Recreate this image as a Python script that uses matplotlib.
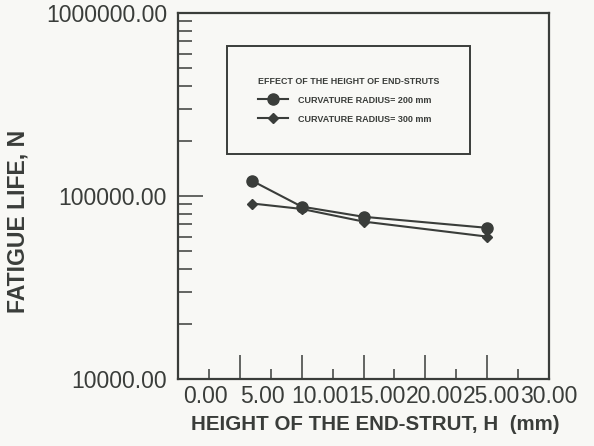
import matplotlib
matplotlib.use("Agg")
import matplotlib.pyplot as plt
import matplotlib.transforms as mtransforms
from matplotlib.ticker import FixedLocator, NullFormatter, LogLocator

# fatigue life vs end-strut height, for two curvature radii
heights = [6.0, 10.0, 15.0, 25.0]
life_r200 = [121000, 87500, 77000, 67000]
life_r300 = [91000, 85000, 72500, 60000]

x_ticks = [0, 5, 10, 15, 20, 25, 30]
x_tick_labels = ["0.00", "5.00", "10.00", "15.00", "20.00", "25.00", "30.00"]
y_ticks = [1e4, 1e5, 1e6]
y_tick_labels = ["10000.00", "100000.00", "1000000.00"]

INK = "#3a3d3a"
PAPER = "#f8f8f5"

plt.rcParams["font.family"] = ["Liberation Sans", "DejaVu Sans"]

fig = plt.figure(figsize=(5.94, 4.46), dpi=100, facecolor=PAPER)
ax = fig.add_axes([0.2997, 0.1502, 0.6246, 0.8206], facecolor=PAPER)

ax.plot(heights, life_r200, color=INK, lw=1.5, marker="o", ms=8,
        mfc=INK, mec=INK, label="CURVATURE RADIUS= 200 mm")
ax.plot(heights, life_r300, color=INK, lw=1.5, marker="D", ms=5.5,
        mfc=INK, mec=INK, label="CURVATURE RADIUS= 300 mm")

ax.set_yscale("log")
ax.set_xlim(0, 30)
ax.set_ylim(1e4, 1e6)

for sp in ax.spines.values():
    sp.set_color(INK)
    sp.set_linewidth(1.6)

# x axis: inward ticks, labels nudged to the right
ax.xaxis.set_major_locator(FixedLocator(x_ticks))
ax.xaxis.set_minor_locator(FixedLocator([2.5 + 5 * i for i in range(6)]))
ax.set_xticklabels(x_tick_labels)
ax.tick_params(axis="x", which="major", direction="in", length=17, width=1.1,
               color=INK, labelsize=16.5, labelcolor=INK, pad=4, top=False)
ax.tick_params(axis="x", which="minor", direction="in", length=7.5, width=1.1,
               color=INK, top=False)
n = len(x_tick_labels)
for i, lab in enumerate(ax.get_xticklabels()):
    shift = 27 * (1 - i / (n - 1)) * 0.72
    lab.set_transform(lab.get_transform() +
                      mtransforms.ScaledTranslation(shift / 72, 0, fig.dpi_scale_trans))

# y axis: log decades with minor ticks
ax.yaxis.set_major_locator(FixedLocator(y_ticks))
ax.yaxis.set_minor_locator(LogLocator(base=10, subs=range(2, 10)))
ax.yaxis.set_minor_formatter(NullFormatter())
ax.set_yticklabels(y_tick_labels)
ax.tick_params(axis="y", which="major", direction="in", length=18, width=1.1,
               color=INK, labelsize=16.5, labelcolor=INK, pad=8, right=False)
ax.tick_params(axis="y", which="minor", direction="in", length=10, width=1.1,
               color=INK, right=False)

ax.set_xlabel("HEIGHT OF THE END-STRUT, H  (mm)", fontsize=14.8,
              fontweight="bold", color=INK)
ax.xaxis.set_label_coords(0.531, -0.098)
ax.set_ylabel("FATIGUE LIFE, N", fontsize=16.6, fontweight="bold", color=INK)
ax.yaxis.set_label_coords(-0.40, 0.43)

leg = ax.legend(title="EFFECT OF THE HEIGHT OF END-STRUTS",
                loc="upper left", bbox_to_anchor=(0.132, 0.617, 0.655, 0.293),
                mode="expand", alignment="left",
                prop={"size": 6.5, "weight": "bold"},
                title_fontproperties={"size": 6.4, "weight": "bold"},
                frameon=True, fancybox=False, borderpad=3.4,
                handlelength=3.4, handletextpad=1.1, labelspacing=1.1,
                borderaxespad=0)
leg.get_frame().set_edgecolor(INK)
leg.get_frame().set_linewidth(1.4)
leg.get_frame().set_facecolor(PAPER)
leg.get_frame().set_alpha(1)
for t in leg.get_texts():
    t.set_color(INK)
leg.get_title().set_color(INK)

fig.savefig("out.png", dpi=100, facecolor=PAPER)
